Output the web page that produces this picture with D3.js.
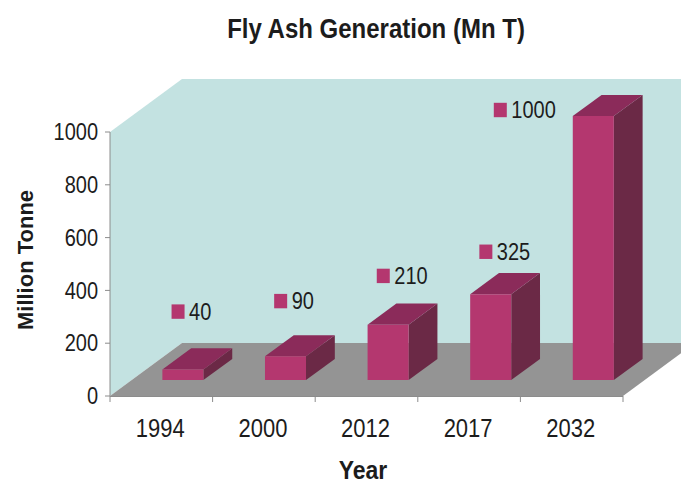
<!DOCTYPE html>
<html>
<head>
<meta charset="utf-8">
<script src="https://cdn.jsdelivr.net/npm/d3@7"></script>
<style>
  html, body { margin: 0; padding: 0; background: #ffffff; }
  svg { display: block; font-family: "Liberation Sans", Arial, Helvetica, sans-serif; }
</style>
</head>
<body>
<svg id="chart" width="681" height="485"></svg>
<script>
// Fly ash generation, million tonnes per year
const years = ["1994", "2000", "2012", "2017", "2032"];
const ash = [40, 90, 210, 325, 1000];
const yTicks = [0, 200, 400, 600, 800, 1000];

const chartTitle = "Fly Ash Generation (Mn T)";
const yTitle = "Million Tonne";
const xTitle = "Year";

const svg = d3.select("#chart");
const W = 681, H = 485;

// plot box (front plane) and oblique depth of the 3D box
const plotLeft = 110, plotRight = 623, plotBottom = 396, plotTop = 132;
const depth = { dx: 72, dy: -53 };
const proj = (px, py, t) => [px + depth.dx * t, py + depth.dy * t];

const x = d3.scaleBand().domain(years).range([plotLeft, plotRight])
  .paddingInner(0.6).paddingOuter(0.3);
const y = d3.scaleLinear().domain([0, 1000]).range([plotBottom, plotTop]);
// data labels float above the bars on their own vertical scale
const yLabel = d3.scaleLinear().domain([0, 1000]).range([320, 110]);

const colors = {
  wall: "#c3e2e1", floor: "#949494", axis: "#8c8c8c",
  front: "#b4376f", side: "#6b2946", top: "#8b2b5a", text: "#1c1c1c"
};
const poly = pts => "M" + pts.map(p => p.join(",")).join("L") + "Z";

// walls: back wall plus left side wall
const b0 = proj(plotLeft, y(0), 1), b1 = proj(plotLeft, y(1000), 1);
svg.append("path").attr("fill", colors.wall)
  .attr("d", poly([[b1[0], b1[1]], [W + 40, b1[1]], [W + 40, b0[1]], [b0[0], b0[1]]]));
svg.append("path").attr("fill", colors.wall)
  .attr("d", poly([[plotLeft, y(0)], [plotLeft, y(1000)], b1, b0]));

// floor
svg.append("path").attr("fill", colors.floor)
  .attr("d", poly([[plotLeft, y(0)], [plotRight, y(0)], proj(plotRight, y(0), 1), proj(plotLeft, y(0), 1)]));

// 3D bars: front face at depth 0.3, back at 0.7
const tf = 0.3, tb = 0.7;
const bars = svg.append("g").selectAll("g").data(years).join("g");
bars.each(function (d, i) {
  const g = d3.select(this);
  const x0 = x(d), x1 = x(d) + x.bandwidth();
  const yb = y(0), yt = y(ash[i]);
  const fl = proj(x0, yb, tf), fr = proj(x1, yb, tf);
  const ftl = proj(x0, yt, tf), ftr = proj(x1, yt, tf);
  const br = proj(x1, yb, tb), btl = proj(x0, yt, tb), btr = proj(x1, yt, tb);
  g.append("path").attr("fill", colors.side).attr("d", poly([fr, ftr, btr, br]));
  g.append("path").attr("fill", colors.top).attr("d", poly([ftl, ftr, btr, btl]));
  g.append("path").attr("fill", colors.front).attr("d", poly([fl, ftl, ftr, fr]));
});

// data labels: legend key square + value
const stretch = 1.15;
const labels = svg.append("g").selectAll("g").data(years).join("g");
labels.each(function (d, i) {
  const g = d3.select(this);
  const v = ash[i];
  const cy = yLabel(v);
  const txt = String(v);
  const textW = txt.length * 0.556 * 20;
  const groupW = 17.5 + textW;
  let lx = x(d) - x.step() * 0.3 + x.step() * 0.6;
  // when the label sits beside a taller bar, move it left of the bar
  const barTop = proj(0, y(v), tb)[1];
  if (cy > barTop) {
    const barFront = proj(x(d), 0, tf)[0];
    lx = barFront - 17 - groupW;
  }
  g.append("rect").attr("x", lx).attr("y", cy - 7.2)
    .attr("width", 13).attr("height", 14.4).attr("fill", colors.front);
  g.append("text")
    .attr("transform", `translate(${lx + 17.5},${cy}) scale(1,${stretch})`)
    .attr("dy", "0.358em").attr("font-size", 20).attr("fill", colors.text)
    .text(txt);
});

// axes
const axis = svg.append("g").attr("stroke", colors.axis).attr("stroke-width", 1);
axis.append("line").attr("x1", plotLeft).attr("x2", plotLeft).attr("y1", y(1000)).attr("y2", y(0));
axis.append("line").attr("x1", plotLeft).attr("x2", plotRight).attr("y1", y(0) + 0.5).attr("y2", y(0) + 0.5);
axis.selectAll(".yt").data(yTicks).join("line")
  .attr("x1", plotLeft - 5).attr("x2", plotLeft).attr("y1", d => y(d)).attr("y2", d => y(d));
const bounds = years.map(d => x(d) - x.step() * 0.3).concat([plotRight]);
axis.selectAll(".xt").data(bounds).join("line")
  .attr("x1", d => d).attr("x2", d => d).attr("y1", y(0)).attr("y2", y(0) + 6);

svg.append("g").selectAll("text").data(yTicks).join("text")
  .attr("transform", d => `translate(98,${y(d)}) scale(1,${stretch})`)
  .attr("dy", "0.358em").attr("text-anchor", "end")
  .attr("font-size", 20).attr("fill", colors.text)
  .text(d => d);

svg.append("g").selectAll("text").data(years).join("text")
  .attr("transform", d => `translate(${x(d) + x.bandwidth() / 2 - 1},437) scale(1,1.18)`)
  .attr("text-anchor", "middle").attr("font-size", 22).attr("fill", colors.text)
  .text(d => d);

// titles
svg.append("text")
  .attr("transform", `translate(376,37.5) scale(1,${stretch})`)
  .attr("text-anchor", "middle").attr("font-size", 24).attr("font-weight", "bold")
  .attr("fill", colors.text).text(chartTitle);

svg.append("text")
  .attr("transform", "translate(33,260) rotate(-90)")
  .attr("text-anchor", "middle").attr("font-size", 22).attr("font-weight", "bold")
  .attr("fill", colors.text).text(yTitle);

svg.append("text")
  .attr("transform", `translate(363,479) scale(1,1.1)`)
  .attr("text-anchor", "middle").attr("font-size", 23).attr("font-weight", "bold")
  .attr("fill", colors.text).text(xTitle);
</script>
</body>
</html>
